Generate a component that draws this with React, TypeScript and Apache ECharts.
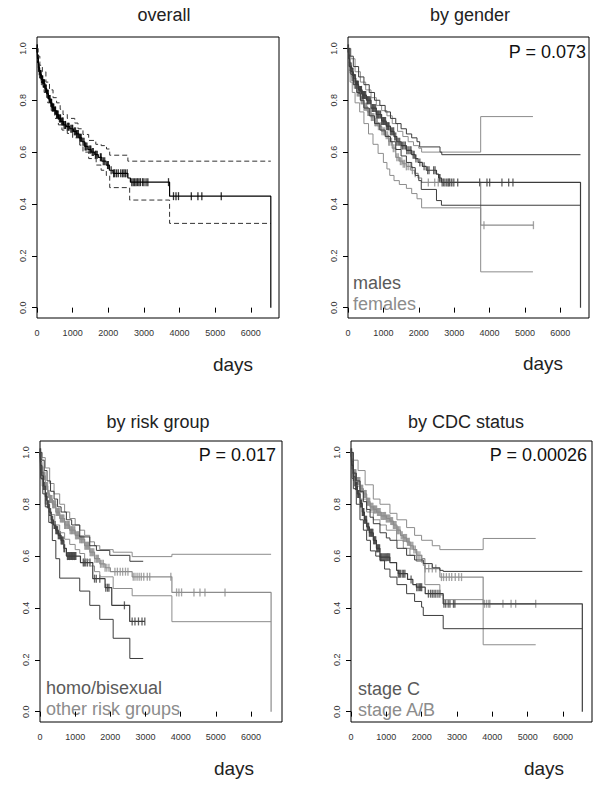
import React, { useEffect, useRef } from "react";
import * as echarts from "echarts";

type Pt = [number, number];

// ---------- panel 1: overall ----------
const overallMain: Pt[] = [[0,1],[15,0.96],[40,0.925],[75,0.9],[120,0.88],[170,0.865],[220,0.845],[270,0.825],[320,0.805],[370,0.79],[420,0.772],[480,0.76],[540,0.745],[600,0.73],[670,0.718],[740,0.705],[820,0.698],[920,0.69],[1020,0.68],[1100,0.67],[1180,0.655],[1260,0.64],[1340,0.622],[1430,0.61],[1520,0.6],[1620,0.59],[1720,0.58],[1820,0.565],[1940,0.55],[2030,0.53],[2130,0.518],[2550,0.5],[2620,0.484],[3720,0.43],[6560,0]];
const overallUpper: Pt[] = [[0,1],[30,0.97],[80,0.935],[150,0.91],[250,0.87],[350,0.84],[450,0.81],[550,0.79],[650,0.765],[730,0.745],[850,0.73],[1060,0.712],[1150,0.69],[1290,0.668],[1450,0.645],[1650,0.63],[1800,0.625],[1950,0.612],[2040,0.588],[2550,0.565],[6560,0.565]];
const overallLower: Pt[] = [[0,1],[20,0.94],[60,0.89],[120,0.86],[200,0.83],[300,0.79],[400,0.76],[500,0.73],[600,0.705],[700,0.685],[850,0.672],[1000,0.655],[1200,0.627],[1290,0.6],[1450,0.575],[1660,0.55],[1800,0.53],[1945,0.51],[2040,0.463],[2600,0.415],[3720,0.325],[6560,0.325]];
const overallCens: number[] = [5,10,18,25,30,35,45,55,60,65,80,90,100,105,110,125,140,150,160,175,185,195,200,210,230,245,260,280,290,300,315,340,355,365,390,400,410,430,440,460,470,500,510,520,550,560,580,590,630,650,660,690,720,730,760,790,800,850,880,900,950,980,1000,1050,1080,1110,1130,1160,1200,1220,1240,1290,1320,1350,1370,1400,1460,1490,1510,1550,1580,1640,1660,1690,1780,1800,1860,1900,1980,2000,2080,2150,2180,2230,2280,2350,2400,2440,2480,2530,2660,2700,2740,2780,2820,2860,2900,2960,3000,3060,3110,3690,3830,3900,3970,4330,4515,4625,5170];

// ---------- panel 2: by gender ----------
const maleMain: Pt[] = [[0,1],[20,0.96],[50,0.93],[90,0.91],[150,0.885],[220,0.86],[300,0.84],[400,0.82],[520,0.8],[650,0.77],[800,0.745],[950,0.72],[1080,0.7],[1200,0.68],[1300,0.66],[1380,0.64],[1500,0.625],[1650,0.607],[1800,0.59],[1900,0.575],[1980,0.56],[2100,0.545],[2210,0.53],[2500,0.515],[2560,0.5],[2640,0.483],[6570,0]];
const maleUpper: Pt[] = [[0,1],[60,0.97],[150,0.93],[300,0.89],[450,0.86],[600,0.83],[750,0.8],[900,0.78],[1050,0.755],[1200,0.73],[1350,0.71],[1500,0.69],[1650,0.67],[1800,0.655],[1950,0.64],[2025,0.62],[2600,0.6],[2650,0.59],[6570,0.59]];
const maleLower: Pt[] = [[0,1],[30,0.93],[80,0.9],[150,0.86],[250,0.83],[350,0.8],[450,0.77],[600,0.74],[750,0.71],[900,0.685],[1050,0.66],[1200,0.64],[1350,0.61],[1500,0.585],[1650,0.56],[1800,0.54],[1900,0.51],[2000,0.49],[2070,0.456],[2500,0.413],[2640,0.395],[6570,0.395]];
const maleCens: number[] = [5,10,20,30,38,45,52,60,68,75,85,100,110,120,130,140,150,165,175,185,195,210,225,240,255,270,280,290,310,330,345,360,370,380,400,420,435,450,465,480,500,540,555,570,590,610,640,680,700,720,750,780,800,830,850,870,900,920,950,980,1000,1020,1040,1060,1090,1120,1140,1160,1200,1230,1260,1290,1320,1350,1380,1420,1460,1500,1540,1580,1620,1660,1700,1750,1780,1840,1870,1920,2030,2150,2250,2290,2420,2460,2580,2600,2660,2700,2740,2790,2830,2870,2920,2970,3100,3720,3927,4003,4350,4540,4661];
const femaleMain: Pt[] = [[0,1],[20,0.95],[50,0.92],[100,0.89],[170,0.86],[250,0.83],[350,0.8],[450,0.775],[550,0.755],[650,0.735],[750,0.715],[850,0.7],[950,0.68],[1050,0.665],[1150,0.64],[1250,0.615],[1350,0.58],[1450,0.565],[1550,0.555],[1650,0.545],[1780,0.53],[1880,0.518],[1980,0.5],[2080,0.483],[3749,0.318],[5240,0.318]];
const femaleUpper: Pt[] = [[0,1],[80,0.96],[200,0.91],[350,0.87],[500,0.84],[650,0.81],[800,0.78],[950,0.76],[1100,0.74],[1250,0.71],[1400,0.68],[1550,0.66],[1700,0.64],[1850,0.625],[2000,0.615],[2080,0.6],[3749,0.737],[5226,0.737]];
const femaleLower: Pt[] = [[0,1],[20,0.92],[60,0.87],[120,0.83],[200,0.79],[330,0.755],[450,0.71],[580,0.67],[706,0.63],[850,0.595],[1000,0.56],[1100,0.535],[1180,0.51],[1300,0.49],[1450,0.475],[1650,0.46],[1800,0.44],[1950,0.42],[2080,0.385],[3749,0.138],[5226,0.138]];
const femaleCens: number[] = [8,15,25,35,45,55,65,80,95,110,120,130,145,160,180,200,215,230,245,260,280,300,320,340,370,385,400,415,430,450,470,500,515,530,560,590,620,640,660,680,700,730,760,780,800,830,860,900,930,960,1000,1040,1080,1120,1150,1180,1230,1280,1330,1380,1420,1480,1520,1560,1600,1650,1700,1760,1820,1900,2270,2450,2550,2850,3000,3842,5240];

// ---------- panel 3: by risk group ----------
const homoMain: Pt[] = [[0,1],[20,0.95],[50,0.91],[100,0.87],[150,0.83],[200,0.8],[260,0.77],[320,0.74],[380,0.72],[450,0.7],[520,0.68],[600,0.66],[680,0.63],[750,0.6],[1150,0.575],[1500,0.513],[1850,0.478],[2040,0.41],[2550,0.348],[2980,0.348]];
const homoUpper: Pt[] = [[0,1],[50,0.97],[120,0.93],[200,0.89],[300,0.85],[400,0.82],[500,0.79],[600,0.77],[750,0.74],[900,0.72],[1130,0.674],[1415,0.64],[1604,0.622],[1984,0.603],[2555,0.58],[2934,0.58]];
const homoLower: Pt[] = [[0,1],[20,0.9],[80,0.84],[150,0.79],[250,0.73],[350,0.66],[450,0.59],[560,0.515],[1130,0.465],[1415,0.41],[1700,0.356],[2080,0.283],[2554,0.205],[2934,0.205]];
const homoCens: number[] = [5,10,18,25,35,45,58,70,80,90,105,120,140,160,175,190,210,230,250,270,285,300,320,340,360,400,415,430,450,470,485,500,520,540,560,580,600,620,640,660,680,700,780,800,820,840,860,880,900,920,940,960,980,1000,1020,1230,1260,1300,1350,1420,1550,1600,1700,1870,1920,1960,2400,2620,2700,2800,2900,2980];
const otherMain: Pt[] = [[0,1],[20,0.96],[50,0.93],[85,0.91],[150,0.87],[220,0.84],[275,0.82],[350,0.8],[450,0.77],[560,0.745],[700,0.72],[845,0.7],[1000,0.68],[1130,0.665],[1270,0.64],[1415,0.615],[1550,0.59],[1700,0.57],[1850,0.555],[2000,0.54],[2620,0.52],[3750,0.46],[6570,0]];
const otherUpper: Pt[] = [[0,1],[60,0.98],[150,0.94],[275,0.88],[400,0.84],[560,0.8],[700,0.77],[845,0.745],[1000,0.72],[1130,0.7],[1270,0.68],[1415,0.655],[1550,0.64],[1700,0.625],[2080,0.615],[2620,0.598],[3750,0.607],[6570,0.607]];
const otherLower: Pt[] = [[0,1],[20,0.92],[60,0.87],[150,0.8],[275,0.76],[420,0.72],[560,0.69],[700,0.665],[845,0.645],[1000,0.625],[1130,0.61],[1270,0.585],[1415,0.562],[1550,0.54],[1700,0.52],[2080,0.475],[2620,0.447],[3750,0.347],[6570,0.347]];
const otherCens: number[] = [5,10,20,30,40,50,60,70,82,95,108,120,130,140,155,170,185,200,215,230,245,260,275,290,305,320,340,360,375,390,410,430,445,460,480,500,515,530,555,580,600,620,640,660,680,700,720,740,765,790,810,830,855,880,900,920,945,970,990,1010,1035,1060,1080,1100,1130,1160,1180,1200,1225,1250,1275,1300,1325,1350,1375,1400,1425,1450,1475,1500,1530,1560,1600,1630,1660,1720,1760,1800,1850,1900,1960,2130,2200,2280,2350,2430,2500,2650,2700,2760,2820,2880,2950,3050,3120,3720,3883,3950,4025,4377,4548,4690,5260];

// ---------- panel 4: by CDC status ----------
const stageCMain: Pt[] = [[0,1],[20,0.95],[66,0.906],[120,0.87],[180,0.84],[254,0.803],[320,0.77],[380,0.74],[443,0.713],[520,0.69],[631,0.661],[720,0.63],[819,0.596],[1100,0.575],[1290,0.545],[1337,0.532],[1600,0.51],[1750,0.49],[1850,0.48],[2100,0.455],[2609,0.416],[6546,0]];
const stageCUpper: Pt[] = [[0,1],[66,0.92],[150,0.89],[254,0.85],[350,0.81],[443,0.78],[540,0.75],[631,0.725],[820,0.69],[1000,0.67],[1102,0.661],[1300,0.63],[1574,0.603],[1800,0.585],[2045,0.571],[2300,0.555],[2515,0.545],[2609,0.541],[6546,0.541]];
const stageCLower: Pt[] = [[0,1],[30,0.9],[66,0.86],[150,0.8],[254,0.74],[350,0.7],[443,0.661],[550,0.62],[700,0.6],[820,0.584],[950,0.55],[1102,0.519],[1300,0.49],[1574,0.455],[1800,0.425],[1998,0.403],[2045,0.371],[2609,0.32],[6546,0.32]];
const stageCCens: number[] = [5,10,18,25,32,40,50,60,70,80,90,100,115,130,145,160,175,190,205,220,235,250,270,290,305,320,335,350,365,380,400,420,440,460,480,500,520,540,560,580,600,620,640,660,680,700,725,750,770,790,810,830,855,880,910,940,970,1000,1030,1060,1094,1337,1370,1400,1450,1490,1526,1700,1860,1900,1940,1970,2000,2190,2250,2300,2350,2400,2460,2515,2630,2680,2750,2800,2900,2940];
const stageABMain: Pt[] = [[0,1],[20,0.96],[66,0.92],[150,0.89],[254,0.86],[350,0.84],[443,0.81],[540,0.79],[631,0.78],[726,0.77],[850,0.755],[1000,0.745],[1102,0.735],[1200,0.72],[1300,0.7],[1400,0.68],[1479,0.67],[1573,0.655],[1670,0.64],[1762,0.625],[1860,0.603],[2000,0.59],[2090,0.552],[2515,0.519],[3740,0.416],[5227,0.416]];
const stageABUpper: Pt[] = [[0,1],[66,0.97],[200,0.93],[400,0.875],[631,0.82],[820,0.8],[1102,0.765],[1300,0.74],[1574,0.71],[1800,0.68],[1998,0.661],[2300,0.64],[2515,0.625],[3740,0.668],[5227,0.668]];
const stageABLower: Pt[] = [[0,1],[30,0.92],[100,0.87],[254,0.82],[443,0.77],[631,0.74],[820,0.72],[1000,0.7],[1291,0.661],[1480,0.63],[1668,0.603],[1850,0.58],[2045,0.564],[2090,0.49],[2515,0.45],[2610,0.432],[3740,0.258],[5227,0.258]];
const stageABCens: number[] = [5,10,20,30,40,50,65,80,95,110,125,140,155,170,190,210,230,250,270,290,310,330,350,370,390,410,430,450,470,490,510,530,550,570,595,620,640,660,680,700,725,750,775,800,825,850,875,900,925,950,975,1000,1025,1050,1075,1100,1125,1150,1175,1200,1225,1250,1275,1300,1325,1350,1385,1420,1450,1480,1510,1540,1570,1600,1625,1650,1685,1720,1750,1780,1820,1860,1900,1950,2000,2100,2200,2300,2400,2560,2620,2700,2780,2850,2950,3050,3128,3780,3840,3900,3930,4300,4530,4660,5227];

// axis tick labels
const xTicks: number[] = [0, 1000, 2000, 3000, 4000, 5000, 6000];
const yTicks: number[] = [0, 0.2, 0.4, 0.6, 0.8, 1.0];

const panelTitles: string[] = ["overall", "by gender", "by risk group", "by CDC status"];
const pValues: string[] = ["", "P = 0.073", "P = 0.017", "P = 0.00026"];
const legendLabels: string[][] = [[], ["males", "females"], ["homo/bisexual", "other risk groups"], ["stage C", "stage A/B"]];

const DARK = "#3c3c3c";
const LIGHT = "#8c8c8c";
const FONT = '"Liberation Sans", Arial, sans-serif';

function survAt(curve: Pt[], t: number): number {
  let s = curve[0][1];
  for (const [ti, si] of curve) {
    if (ti <= t) s = si;
    else break;
  }
  return s;
}

const grids = [
  { left: 37, top: 37, width: 242, height: 281, xMax: 6790 },
  { left: 348, top: 37, width: 241, height: 281, xMax: 6810 },
  { left: 40, top: 441, width: 242, height: 281, xMax: 6880 },
  { left: 351, top: 441, width: 241, height: 281, xMax: 6820 },
];

export default function App() {
  const ref = useRef<HTMLDivElement>(null);
  useEffect(() => {
    if (!ref.current) return;
    const chart = echarts.init(ref.current, undefined, { renderer: "svg" });

    const series: any[] = [];
    const stepLine = (g: number, data: Pt[], color: string, dashed = false, width = 1) => {
      series.push({
        type: "line", xAxisIndex: g, yAxisIndex: g, data, step: "end",
        symbol: "none", showSymbol: false, silent: true,
        lineStyle: { color, width, type: dashed ? [5, 3] : "solid" },
      });
    };
    const censor = (g: number, curve: Pt[], times: number[], color: string) => {
      series.push({
        type: "scatter", xAxisIndex: g, yAxisIndex: g, silent: true,
        symbol: "rect", symbolSize: [1.3, 8],
        itemStyle: { color },
        data: times.map((t) => [t, survAt(curve, t)]),
      });
    };

    // panel 1
    stepLine(0, overallUpper, "#333", true);
    stepLine(0, overallLower, "#333", true);
    stepLine(0, overallMain, "#000", false, 1.2);
    censor(0, overallMain, overallCens, "#000");
    // panel 2
    stepLine(1, femaleUpper, LIGHT);
    stepLine(1, femaleLower, LIGHT);
    stepLine(1, femaleMain, LIGHT, false, 1.2);
    censor(1, femaleMain, femaleCens, LIGHT);
    stepLine(1, maleUpper, DARK);
    stepLine(1, maleLower, DARK);
    stepLine(1, maleMain, DARK, false, 1.2);
    censor(1, maleMain, maleCens, DARK);
    // panel 3
    stepLine(2, otherUpper, LIGHT);
    stepLine(2, otherLower, LIGHT);
    stepLine(2, otherMain, LIGHT, false, 1.2);
    censor(2, otherMain, otherCens, LIGHT);
    stepLine(2, homoUpper, DARK);
    stepLine(2, homoLower, DARK);
    stepLine(2, homoMain, DARK, false, 1.2);
    censor(2, homoMain, homoCens, DARK);
    // panel 4
    stepLine(3, stageABUpper, LIGHT);
    stepLine(3, stageABLower, LIGHT);
    stepLine(3, stageABMain, LIGHT, false, 1.2);
    censor(3, stageABMain, stageABCens, LIGHT);
    stepLine(3, stageCUpper, DARK);
    stepLine(3, stageCLower, DARK);
    stepLine(3, stageCMain, DARK, false, 1.2);
    censor(3, stageCMain, stageCCens, DARK);

    const titlePos = [[164, 15], [470, 15], [158, 422], [466, 422]];
    const daysPos = [[233, 364], [543, 363], [234, 768], [544, 768]];
    const pPos = [[0, 0], [586, 52], [276, 455], [587, 455]];
    const legPos = [[0, 0, 0], [353, 283, 304], [46, 688, 709], [358, 689, 710]];

    const graphic: any[] = [];
    for (let i = 0; i < 4; i++) {
      graphic.push({ type: "text", x: titlePos[i][0], y: titlePos[i][1], silent: true,
        style: { text: panelTitles[i], fill: "#222", font: `18px ${FONT}`, align: "center", verticalAlign: "middle" } });
      graphic.push({ type: "text", x: daysPos[i][0], y: daysPos[i][1], silent: true,
        style: { text: "days", fill: "#222", font: `19px ${FONT}`, align: "center", verticalAlign: "middle" } });
      if (pValues[i]) {
        graphic.push({ type: "text", x: pPos[i][0], y: pPos[i][1], silent: true,
          style: { text: pValues[i], fill: "#111", font: `18px ${FONT}`, align: "right", verticalAlign: "middle" } });
      }
      if (legendLabels[i].length) {
        graphic.push({ type: "text", x: legPos[i][0], y: legPos[i][1], silent: true,
          style: { text: legendLabels[i][0], fill: "#5a5a5a", font: `18px ${FONT}`, align: "left", verticalAlign: "middle" } });
        graphic.push({ type: "text", x: legPos[i][0], y: legPos[i][2], silent: true,
          style: { text: legendLabels[i][1], fill: "#8c8c8c", font: `18px ${FONT}`, align: "left", verticalAlign: "middle" } });
      }
    }

    chart.setOption({
      animation: false,
      backgroundColor: "#fff",
      grid: grids.map((g) => ({ left: g.left, top: g.top, width: g.width, height: g.height, show: true, borderColor: "#000", borderWidth: 1, backgroundColor: "transparent" })),
      xAxis: grids.map((g, i) => ({
        type: "value", gridIndex: i, min: 0, max: g.xMax,
        axisLine: { show: false }, splitLine: { show: false },
        axisTick: { show: true, inside: false, length: 5, lineStyle: { color: "#000" }, customValues: xTicks },
        axisLabel: { customValues: xTicks, fontSize: 9, color: "#333", margin: 10, fontFamily: FONT,
          formatter: (v: number) => String(v) },
      })),
      yAxis: grids.map((g, i) => ({
        type: "value", gridIndex: i, min: -0.04, max: 1.044,
        axisLine: { show: false }, splitLine: { show: false },
        axisTick: { show: true, inside: false, length: 5, lineStyle: { color: "#000" }, customValues: yTicks },
        axisLabel: { customValues: yTicks, fontSize: 9, color: "#333", margin: 10, rotate: 90, fontFamily: FONT,
          formatter: (v: number) => v.toFixed(1) },
      })),
      series,
      graphic,
    });
    return () => chart.dispose();
  }, []);
  return <div ref={ref} style={{ position: "absolute", left: 0, top: 0, width: 600, height: 789 }} />;
}
